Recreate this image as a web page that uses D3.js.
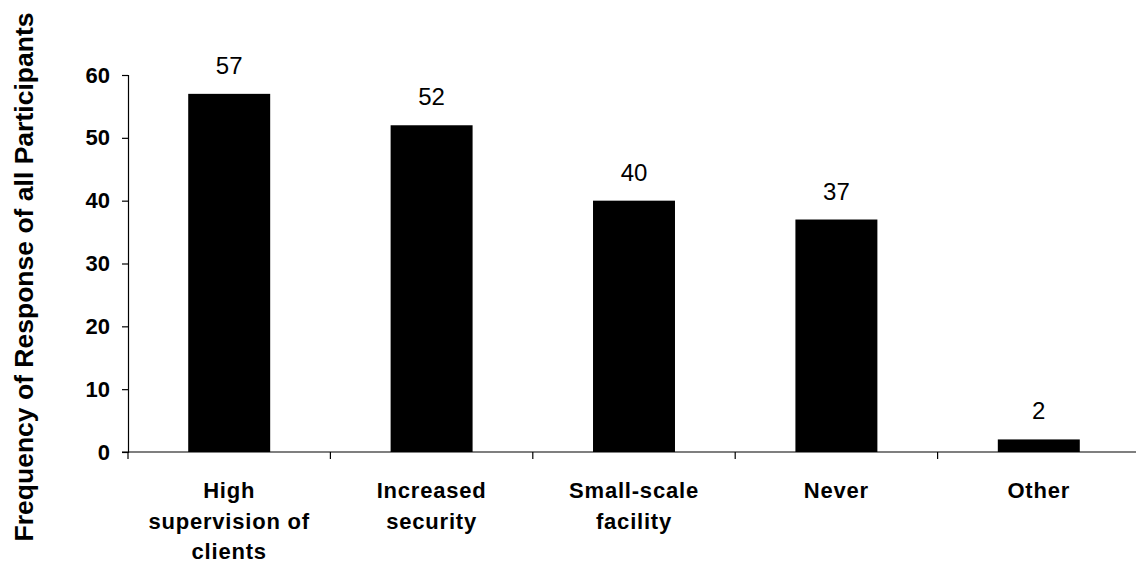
<!DOCTYPE html>
<html>
<head>
<meta charset="utf-8">
<script src="https://cdn.jsdelivr.net/npm/d3@7"></script>
<style>
  html, body { margin: 0; padding: 0; background: #fff; }
  svg text { font-family: Arial, "Liberation Sans", sans-serif; fill: #000; }
</style>
</head>
<body>
<svg id="chart" width="1136" height="565"></svg>
<script>
// Responses per option
const categories = [
  ["High", "supervision of", "clients"],
  ["Increased", "security"],
  ["Small-scale", "facility"],
  ["Never"],
  ["Other"]
];
const values = [57, 52, 40, 37, 2];
const yTicks = [0, 10, 20, 30, 40, 50, 60];
const yTitle = "Frequency of Response of all Participants";

const svg = d3.select("#chart");
const plotLeft = 128, plotRight = 1140, plotTop = 75, plotBottom = 452;

const x = d3.scaleBand()
  .domain(d3.range(values.length))
  .range([plotLeft, plotRight])
  .paddingInner(0)
  .paddingOuter(0);

const y = d3.scaleLinear().domain([0, 60]).range([plotBottom, plotTop]);

const barW = x.bandwidth() * 0.405;

// bars
svg.append("g").selectAll("rect")
  .data(values)
  .join("rect")
  .attr("x", (d, i) => x(i) + (x.bandwidth() - barW) / 2)
  .attr("y", d => y(d))
  .attr("width", barW)
  .attr("height", d => y(0) - y(d))
  .attr("fill", "#000");

// value labels
svg.append("g").selectAll("text")
  .data(values)
  .join("text")
  .attr("x", (d, i) => x(i) + x.bandwidth() / 2)
  .attr("y", d => y(d) - 20)
  .attr("text-anchor", "middle")
  .style("font-size", "24px")
  .text(d => d);

// y axis
const yAxis = svg.append("g")
  .attr("transform", `translate(${plotLeft},0)`)
  .call(d3.axisLeft(y).tickValues(yTicks).tickSize(6).tickPadding(12));
yAxis.select(".domain").attr("stroke", "#000").attr("stroke-width", 1.2);
yAxis.selectAll(".tick line").attr("stroke", "#000").attr("stroke-width", 1.2);
yAxis.selectAll(".tick text")
  .style("font-size", "22px")
  .style("font-weight", "bold")
  .attr("fill", "#000");

// x axis with ticks on band boundaries
const xAxisG = svg.append("g").attr("transform", `translate(0,${plotBottom})`);
xAxisG.append("line")
  .attr("x1", plotLeft - 6).attr("x2", plotRight)
  .attr("y1", 0).attr("y2", 0)
  .attr("stroke", "#000").attr("stroke-width", 1.2);
xAxisG.selectAll("line.tk")
  .data(d3.range(values.length + 1))
  .join("line")
  .attr("class", "tk")
  .attr("x1", i => plotLeft + i * x.step())
  .attr("x2", i => plotLeft + i * x.step())
  .attr("y1", 0).attr("y2", 7)
  .attr("stroke", "#000").attr("stroke-width", 1.2);

// category labels
const catG = svg.append("g").selectAll("text")
  .data(categories)
  .join("text")
  .attr("text-anchor", "middle")
  .style("font-size", "22px")
  .style("font-weight", "bold")
  .style("letter-spacing", "0.8px");
catG.selectAll("tspan")
  .data((d, i) => d.map(t => ({ t, i })))
  .join("tspan")
  .attr("x", d => x(d.i) + x.bandwidth() / 2)
  .attr("y", (d, j) => 498 + j * 30.5)
  .text(d => d.t);

// y axis title
svg.append("text")
  .attr("transform", `translate(33,${277}) rotate(-90)`)
  .attr("text-anchor", "middle")
  .attr("textLength", 529)
  .attr("lengthAdjust", "spacing")
  .style("font-size", "26.5px")
  .style("font-weight", "bold")
  .text(yTitle);
</script>
</body>
</html>
